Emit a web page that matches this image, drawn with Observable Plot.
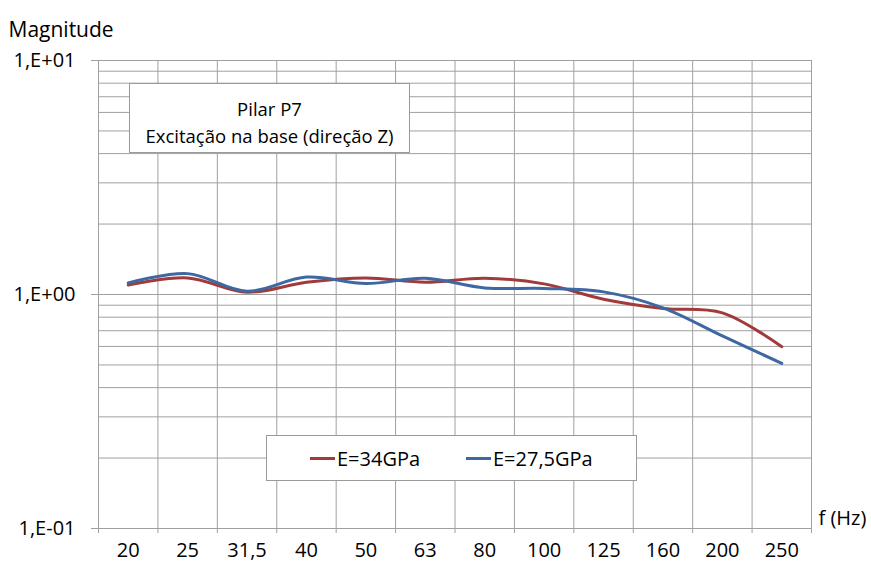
<!DOCTYPE html>
<html>
<head>
<meta charset="utf-8">
<script src="https://cdn.jsdelivr.net/npm/d3@7"></script>
<script src="https://cdn.jsdelivr.net/npm/@observablehq/plot@0.6"></script>
<style>
  html, body { margin: 0; padding: 0; background: #fff; }
  #wrap { position: relative; width: 871px; height: 567px; font-family: "Open Sans", sans-serif; color: #000; }
  #wrap svg { position: absolute; left: 0; top: 0; }
  .box { position: absolute; background: #fff; border: 1px solid #9a9a9a; box-sizing: border-box; }
  #titlebox { left: 129px; top: 83px; width: 281px; height: 70px; text-align: center; font-size: 18.5px; line-height: 27px; padding-top: 11px; }
  #legend { left: 266px; top: 435px; width: 371px; height: 46px; font-size: 20px; }
  .item { position: absolute; top: 0; height: 44px; display: flex; align-items: center; }
  .sw { display: inline-block; width: 25px; height: 3px; margin-right: 2px; }
</style>
</head>
<body>
<div id="wrap"></div>
<script>
// ---- data ----
const freqs = ["20", "25", "31,5", "40", "50", "63", "80", "100", "125", "160", "200", "250"];
const e34 = [1.099, 1.177, 1.023, 1.128, 1.177, 1.128, 1.173, 1.110, 0.955, 0.872, 0.835, 0.598];
const e275 = [1.120, 1.228, 1.033, 1.188, 1.114, 1.173, 1.067, 1.061, 1.026, 0.877, 0.665, 0.508];
const seriesNames = ["E=34GPa", "E=27,5GPa"];
const seriesColors = ["#a13a3a", "#3d68a1"];
const yMajor = [0.1, 1, 10];
const yMajorLabels = ["1,E-01", "1,E+00", "1,E+01"];
const titleLines = ["Pilar P7", "Excitação na base (direção Z)"];
const yTitle = "Magnitude";
const xTitle = "f (Hz)";

// ---- derived tables ----
const rows = [];
freqs.forEach((f, i) => {
  rows.push({ i: i + 0.5, v: e34[i], s: seriesNames[0] });
});
freqs.forEach((f, i) => {
  rows.push({ i: i + 0.5, v: e275[i], s: seriesNames[1] });
});
const minorGrid = [];
[0.1, 1].forEach(dec => { for (let k = 1; k <= 9; k++) minorGrid.push(k * dec); });
minorGrid.push(10);
const bandEdges = d3.range(freqs.length + 1);
const bandCenters = freqs.map((f, i) => i + 0.5);

const chart = Plot.plot({
  width: 871,
  height: 567,
  marginLeft: 98,
  marginRight: 60,
  marginTop: 60,
  marginBottom: 39,
  style: { fontFamily: "Open Sans, sans-serif", fontSize: "20px", color: "#000", background: "transparent" },
  x: { type: "linear", domain: [0, freqs.length], axis: null },
  y: { type: "log", domain: [0.1, 10], axis: null },
  marks: [
    Plot.ruleY(minorGrid, { stroke: "#a0a0a0", strokeWidth: 1 }),
    Plot.ruleX(bandEdges, { y1: 0.1, y2: 10, stroke: "#a0a0a0", strokeWidth: 1 }),
    Plot.axisX({ ticks: bandEdges, tickSize: 5, tickFormat: () => "", stroke: "#a0a0a0", label: null }),
    Plot.axisX({ ticks: bandCenters, tickSize: 0, tickPadding: 14, tickFormat: d => freqs[Math.floor(d)], fontSize: 20, label: null }),
    Plot.axisY({ ticks: yMajor, tickSize: 7, tickPadding: 16, tickFormat: d => yMajorLabels[yMajor.indexOf(d)], stroke: "#a0a0a0", fontSize: 20, label: null }),
    Plot.line(rows, { x: "i", y: "v", z: "s", stroke: d => seriesColors[seriesNames.indexOf(d.s)], strokeWidth: 3, curve: "catmull-rom" }),
    Plot.text([yTitle], { frameAnchor: "top-left", dx: -90, dy: -38, textAnchor: "start", fontSize: 21 }),
    Plot.text([xTitle], { frameAnchor: "bottom-right", dx: 7, dy: -4, textAnchor: "start", fontSize: 20 })
  ]
});

const wrap = document.getElementById("wrap");
wrap.appendChild(chart);

const tb = document.createElement("div");
tb.className = "box";
tb.id = "titlebox";
tb.innerHTML = titleLines.map(t => `<div>${t}</div>`).join("");
wrap.appendChild(tb);

const lg = document.createElement("div");
lg.className = "box";
lg.id = "legend";
const itemLeft = [43, 199];
seriesNames.forEach((n, k) => {
  const it = document.createElement("div");
  it.className = "item";
  it.style.left = itemLeft[k] + "px";
  it.innerHTML = `<span class="sw" style="background:${seriesColors[k]}"></span><span>${n}</span>`;
  lg.appendChild(it);
});
wrap.appendChild(lg);
</script>
</body>
</html>
